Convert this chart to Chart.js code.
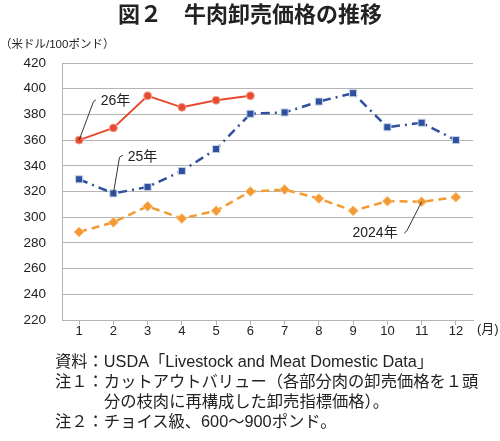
<!DOCTYPE html>
<html>
<head>
<meta charset="utf-8">
<script src="https://cdn.jsdelivr.net/npm/chart.js@4.4.1/dist/chart.umd.min.js"></script>
<style>
  body { margin: 0; background: #fff; }
  #wrap { position: relative; width: 500px; height: 441px; font-family: "Liberation Sans", "Noto Sans CJK JP", sans-serif; color: #222; }
  #chart { position: absolute; left: 0; top: 0; }
  .txt { position: absolute; white-space: nowrap; line-height: 1; }
  #title { left: 0; width: 500px; text-align: center; top: 4px; font-size: 22px; font-weight: bold; }
  #unit { left: 0; top: 39px; font-size: 11.5px; }
  #month { left: 477px; top: 322px; font-size: 13px; }
  .note { left: 55px; font-size: 16.3px; }
</style>
</head>
<body>
<div id="wrap">
  <canvas id="chart" width="500" height="441"></canvas>
  <div class="txt" id="title">図２　牛肉卸売価格の推移</div>
  <div class="txt" id="unit">（米ドル/100ポンド）</div>
  <div class="txt" id="month">(月)</div>
  <div class="txt note" style="top:353px">資料：USDA「Livestock and Meat Domestic Data」</div>
  <div class="txt note" style="top:373px">注１：カットアウトバリュー（各部分肉の卸売価格を１頭</div>
  <div class="txt note" style="top:393px; left:104px">分の枝肉に再構成した卸売指標価格）。</div>
  <div class="txt note" style="top:413px">注２：チョイス級、600～900ポンド。</div>
</div>
<script>
// months
const months = ['1', '2', '3', '4', '5', '6', '7', '8', '9', '10', '11', '12'];

// US$/100lb
const y2026 = [360, 369.5, 394.5, 385.5, 391, 394.5, null, null, null, null, null, null];
const y2025 = [329.5, 318.5, 323.5, 336, 353, 380.5, 381.5, 390, 396.5, 370, 373.5, 360];
const y2024 = [288.5, 296, 308.5, 299, 305, 320, 321.5, 314.5, 305, 312.5, 312, 315.5];

const yMin = 220;
const yMax = 420;
const yStep = 20;

const FONT = '"Liberation Sans", "Noto Sans CJK JP", sans-serif';
const GRID = '#b4b4b4';

// series labels with leader lines: [lineStart(idx,val) -> elbow -> hook], text anchor
const callouts = [
    { text: '26年', from: [0, y2026[0]], elbow: [0.42, 390], hook: [0.49, 391.3], tx: 0.63, ty: 390, align: 'left' },
    { text: '25年', from: [1, y2025[1]], elbow: [1.18, 346.7], hook: [1.28, 348.3], tx: 1.42, ty: 346.7, align: 'left' },
    { text: '2024年', from: [10, y2024[10]], elbow: [9.57, 289.5], hook: [9.49, 287.5], tx: 9.3, ty: 287.5, align: 'right' }
];

const calloutPlugin = {
    id: 'callouts',
    afterDatasetsDraw(chart) {
        const { ctx, scales } = chart;
        const px = p => [scales.x.getPixelForValue(p[0]), scales.y.getPixelForValue(p[1])];
        ctx.save();
        ctx.strokeStyle = '#333';
        ctx.lineWidth = 1;
        ctx.fillStyle = '#222';
        ctx.font = '14px ' + FONT;
        ctx.textBaseline = 'middle';
        callouts.forEach(c => {
            const a = px(c.from), b = px(c.elbow), h = px(c.hook);
            ctx.beginPath();
            ctx.moveTo(a[0], a[1]);
            ctx.lineTo(b[0], b[1]);
            ctx.lineTo(h[0], h[1]);
            ctx.stroke();
            ctx.textAlign = c.align;
            ctx.fillText(c.text, scales.x.getPixelForValue(c.tx), scales.y.getPixelForValue(c.ty));
        });
        ctx.restore();
    }
};

new Chart(document.getElementById('chart').getContext('2d'), {
    type: 'line',
    data: {
        labels: months,
        datasets: [
            {
                label: '2024年',
                data: y2024,
                borderColor: '#f39a33',
                backgroundColor: '#f39a33',
                borderWidth: 2.5,
                borderDash: [8, 5],
                pointStyle: 'rectRot',
                pointRadius: 5,
                pointBorderColor: '#f8c98f',
                pointBorderWidth: 1,
                tension: 0
            },
            {
                label: '25年',
                data: y2025,
                borderColor: '#2f4f9f',
                backgroundColor: '#2f4f9f',
                borderWidth: 2.5,
                borderDash: [9, 5, 2, 5],
                pointStyle: 'rect',
                pointRadius: 5,
                pointBorderColor: '#c9d3ea',
                pointBorderWidth: 1,
                tension: 0
            },
            {
                label: '26年',
                data: y2026,
                borderColor: '#e64a30',
                backgroundColor: '#e64a30',
                borderWidth: 2,
                pointStyle: 'circle',
                pointRadius: 4,
                pointBorderColor: '#f5a899',
                pointBorderWidth: 1,
                spanGaps: false,
                tension: 0
            }
        ]
    },
    options: {
        responsive: false,
        animation: false,
        layout: {
            padding: { left: 0, right: 27, top: 63, bottom: 101 }
        },
        plugins: {
            legend: { display: false },
            tooltip: { enabled: false }
        },
        scales: {
            x: {
                offset: true,
                afterFit: s => { s.height = 20; },
                grid: {
                    drawOnChartArea: false,
                    drawTicks: true,
                    tickLength: 5,
                    color: GRID
                },
                border: { color: GRID, width: 1 },
                ticks: {
                    color: '#222',
                    font: { family: FONT, size: 13 },
                    padding: -1,
                    maxRotation: 0
                }
            },
            y: {
                min: yMin,
                max: yMax,
                afterFit: s => { s.width = 62; },
                grid: {
                    drawTicks: false,
                    color: GRID,
                    lineWidth: 1
                },
                border: { color: GRID, width: 1 },
                ticks: {
                    stepSize: yStep,
                    color: '#222',
                    font: { family: FONT, size: 13.5 },
                    padding: 16
                }
            }
        }
    },
    plugins: [calloutPlugin]
});
</script>
</body>
</html>
